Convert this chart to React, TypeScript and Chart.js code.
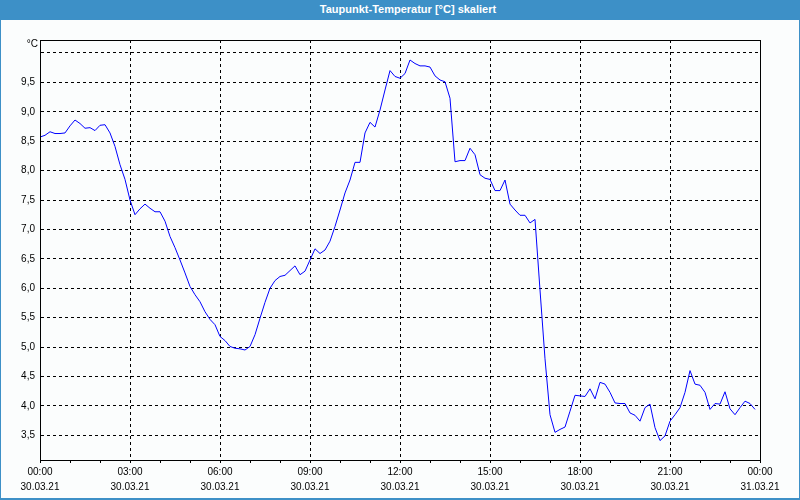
import React, { useEffect, useRef } from "react";
import { Chart, registerables } from "chart.js";

Chart.register(...registerables);

const TITLE = "Taupunkt-Temperatur [°C] skaliert";
const UNIT = "°C";
const SAMPLE_MINUTES = 10;

const TIME_LABELS = ["00:00", "03:00", "06:00", "09:00", "12:00", "15:00", "18:00", "21:00", "00:00"];
const DATE_LABELS = ["30.03.21", "30.03.21", "30.03.21", "30.03.21", "30.03.21", "30.03.21", "30.03.21", "30.03.21", "31.03.21"];
const Y_TICKS = [3.5, 4.0, 4.5, 5.0, 5.5, 6.0, 6.5, 7.0, 7.5, 8.0, 8.5, 9.0, 9.5, 10.0];

const DEW_POINT_00_06 = [
  8.57, 8.6, 8.66, 8.63, 8.63, 8.64, 8.76, 8.86, 8.8, 8.72, 8.73, 8.68, 8.77, 8.78, 8.64, 8.41, 8.1, 7.85,
  7.5, 7.25, 7.35, 7.43, 7.36, 7.3, 7.3, 7.14, 6.88, 6.69, 6.48, 6.26, 6.03, 5.89, 5.77, 5.6, 5.47, 5.38,
  5.18, 5.11,
];
const DEW_POINT_06_12 = [
  5.01, 4.98, 4.97, 4.95, 5.01, 5.21, 5.49, 5.76, 6.0, 6.13, 6.2, 6.22, 6.3, 6.38, 6.23, 6.29, 6.48, 6.67,
  6.59, 6.65, 6.8, 7.05, 7.33, 7.62, 7.84, 8.14, 8.14, 8.64, 8.82, 8.74, 9.03, 9.37, 9.7, 9.6, 9.57, 9.65,
];
const DEW_POINT_12_18 = [
  9.88, 9.82, 9.78, 9.78, 9.76, 9.61, 9.54, 9.51, 9.23, 8.15, 8.17, 8.17, 8.38, 8.27, 7.93, 7.87, 7.85, 7.66,
  7.66, 7.84, 7.43, 7.33, 7.24, 7.24, 7.11, 7.17, 5.97, 4.8, 3.85, 3.55, 3.6, 3.64, 3.91, 4.18, 4.17, 4.16,
];
const DEW_POINT_18_24 = [
  4.29, 4.12, 4.4, 4.37, 4.23, 4.05, 4.04, 4.04, 3.88, 3.84, 3.74, 3.97, 4.03, 3.63, 3.41, 3.49, 3.74, 3.85,
  3.97, 4.23, 4.6, 4.37, 4.35, 4.23, 3.94, 4.04, 4.03, 4.24, 3.95, 3.85, 3.97, 4.08, 4.04, 3.94,
];

const VALUES = [...DEW_POINT_00_06, ...DEW_POINT_06_12, ...DEW_POINT_12_18, ...DEW_POINT_18_24];

const FONT_FAMILY = "'Liberation Sans', Arial, sans-serif";

const frameAndUnit = {
  id: "frameAndUnit",
  afterDraw(chart: any) {
    const { ctx, chartArea } = chart;
    ctx.save();
    ctx.strokeStyle = "#000";
    ctx.lineWidth = 1;
    ctx.setLineDash([]);
    ctx.strokeRect(
      Math.round(chartArea.left) + 0.5,
      Math.round(chartArea.top) + 0.5,
      Math.round(chartArea.right - chartArea.left),
      Math.round(chartArea.bottom - chartArea.top)
    );
    ctx.fillStyle = "#000";
    ctx.font = `10px ${FONT_FAMILY}`;
    ctx.textAlign = "right";
    ctx.textBaseline = "middle";
    ctx.fillText(UNIT, chartArea.left - 2, chartArea.top + 4);
    ctx.restore();
  },
};

export default function App() {
  const canvasRef = useRef<HTMLCanvasElement | null>(null);

  useEffect(() => {
    const canvas = canvasRef.current;
    if (!canvas) return;
    const data = VALUES.map((v, i) => ({ x: i * SAMPLE_MINUTES, y: v }));
    const chart = new Chart(canvas, {
      type: "line",
      data: {
        datasets: [
          {
            data,
            borderColor: "#0000ff",
            borderWidth: 1,
            pointRadius: 0,
            tension: 0,
            fill: false,
          },
        ],
      },
      options: {
        responsive: false,
        animation: false,
        events: [],
        layout: { padding: { top: 40, right: 40, bottom: 0, left: 0 } },
        plugins: { legend: { display: false }, tooltip: { enabled: false }, title: { display: false } },
        scales: {
          x: {
            type: "linear",
            min: 0,
            max: 1440,
            afterBuildTicks: (scale: any) => {
              const t = [];
              for (let m = 0; m <= 1440; m += 60) t.push({ value: m });
              scale.ticks = t;
            },
            afterFit: (scale: any) => {
              scale.height = 40;
            },
            ticks: {
              autoSkip: false,
              maxRotation: 0,
              padding: 2,
              color: "#000",
              font: { family: FONT_FAMILY, size: 10, lineHeight: 1.45 },
              callback: (value: any) => {
                const v = Number(value);
                if (v % 180 !== 0) return "";
                const k = v / 180;
                return [TIME_LABELS[k], DATE_LABELS[k]];
              },
            },
            grid: {
              color: (ctx: any) => (ctx.tick && ctx.tick.value % 180 === 0 ? "#000" : "rgba(0,0,0,0)"),
              tickColor: "#000",
              tickBorderDash: [],
              tickLength: 3,
              lineWidth: 1,
            },
            border: { display: true, color: "#000", width: 1, dash: [3, 3] },
          },
          y: {
            type: "linear",
            min: 3.08,
            max: 10.22,
            afterBuildTicks: (scale: any) => {
              scale.ticks = Y_TICKS.map((v) => ({ value: v }));
            },
            afterFit: (scale: any) => {
              scale.width = 40;
            },
            ticks: {
              padding: 5,
              color: "#000",
              font: { family: FONT_FAMILY, size: 10 },
              callback: (value: any) => {
                const v = Number(value);
                if (v >= 10) return "";
                return v.toFixed(1).replace(".", ",");
              },
            },
            grid: {
              color: "#000",
              drawTicks: false,
              lineWidth: 1,
            },
            border: { display: true, color: "#000", width: 1, dash: [3, 3] },
          },
        },
      },
      plugins: [frameAndUnit],
    });
    return () => chart.destroy();
  }, []);

  return (
    <div style={{ position: "fixed", left: 0, top: 0, width: 800, height: 500, background: "#3d90c7", overflow: "hidden" }}>
      <div
        style={{
          position: "absolute",
          left: 0,
          top: 0,
          width: 800,
          height: 20,
          lineHeight: "19px",
          color: "#ffffff",
          fontFamily: FONT_FAMILY,
          fontWeight: "bold",
          fontSize: 11,
          textAlign: "center",
          paddingLeft: 16,
          boxSizing: "border-box",
        }}
      >
        {TITLE}
      </div>
      <div style={{ position: "absolute", left: 1, top: 20, width: 798, height: 478, background: "#fbfdfd" }} />
      <canvas ref={canvasRef} width={800} height={500} style={{ position: "absolute", left: 0, top: 0, width: 800, height: 500 }} />
    </div>
  );
}
